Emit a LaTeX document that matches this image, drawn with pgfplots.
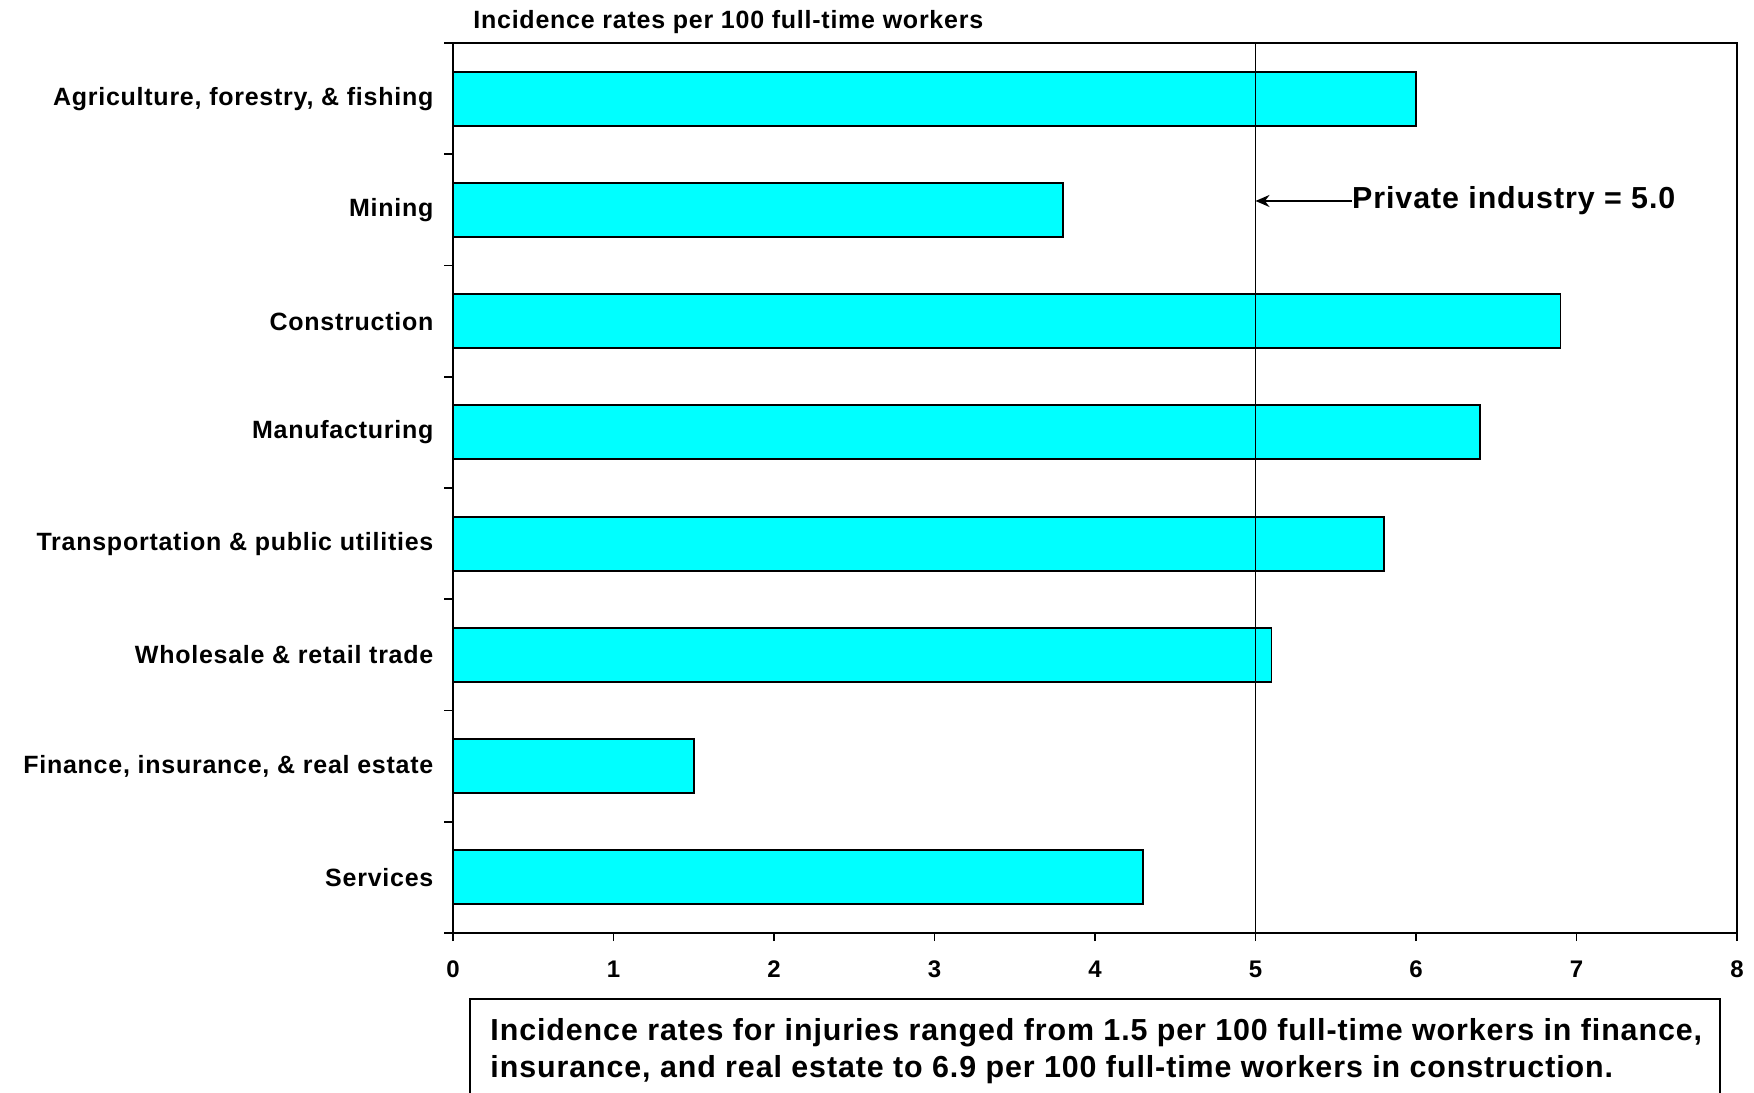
\documentclass[border=0pt]{standalone}
\usepackage{fontspec}
\newfontfamily\chartfont{Liberation Sans}[LetterSpace=3]
\usepackage{pgfplots}
\pgfplotsset{compat=1.18}
\usetikzlibrary{arrows.meta}
\definecolor{barcyan}{RGB}{0,255,255}

\begin{document}
\begin{tikzpicture}
\useasboundingbox (0,0) rectangle (877pt,546pt);

% title above the plot area
\node[anchor=west, inner sep=0pt, font=\chartfont\bfseries\fontsize{12.5}{14}\selectfont]
  at (236.5pt,535pt) {Incidence rates per 100 full-time workers};

\begin{axis}[
    at={(226.5pt,79.5pt)}, anchor=south west,
    scale only axis,
    width=642pt, height=445pt,
    xmin=0, xmax=8,
    ymin=0.5, ymax=8.5,
    y dir=reverse,
    xtick={0,1,...,8},
    ytick={1,...,8},
    minor ytick={0.5,1.5,...,8.5},
    yticklabels={{Agriculture, forestry, \& fishing}, Mining, Construction, Manufacturing,
      {Transportation \& public utilities}, {Wholesale \& retail trade},
      {Finance, insurance, \& real estate}, Services},
    xtick pos=lower, ytick pos=left,
    tick align=outside,
    xtick style={line width=0.9pt, black},
    major y tick style={draw=none},
    minor y tick style={line width=0.9pt, black},
    minor tick length=4.5pt,
    major tick length=4pt,
    axis line style={line width=0.9pt},
    /pgf/number format/assume math mode=true,
    xticklabel style={font=\chartfont\bfseries\fontsize{12}{14}\selectfont, yshift=-6.5pt},
    yticklabel style={font=\chartfont\bfseries\fontsize{12.5}{14}\selectfont, xshift=-2.3pt},
    ticklabel style={text=black},
]
\addplot[xbar, bar width=27pt, fill=barcyan, draw=black, line width=0.9pt]
  coordinates {(6.0,1) (3.8,2) (6.9,3) (6.4,4) (5.8,5) (5.1,6) (1.5,7) (4.3,8)};
% private industry average
\addplot[black, line width=0.9pt, mark=none] coordinates {(5,0.5) (5,8.5)};
\draw[line width=0.9pt, -{Stealth[length=7pt,width=6pt]}] (axis cs:5.6,1.92) -- (axis cs:5.0,1.92);
\node[anchor=west, inner sep=0pt, font=\chartfont\bfseries\fontsize{15.2}{17}\selectfont]
  at (axis cs:5.6,1.92) {Private industry = 5.0};
\end{axis}

% summary box at the bottom
\draw[line width=0.9pt] (235pt,-10pt) rectangle (860pt,46.5pt);
\node[anchor=west, align=left, inner sep=0pt, font=\chartfont\bfseries\fontsize{15.2}{18.5}\selectfont]
  at (245pt,20.5pt)
  {Incidence rates for injuries ranged from 1.5 per 100 full-time workers in finance,\\
   insurance, and real estate to 6.9 per 100 full-time workers in construction.};
\end{tikzpicture}
\end{document}
